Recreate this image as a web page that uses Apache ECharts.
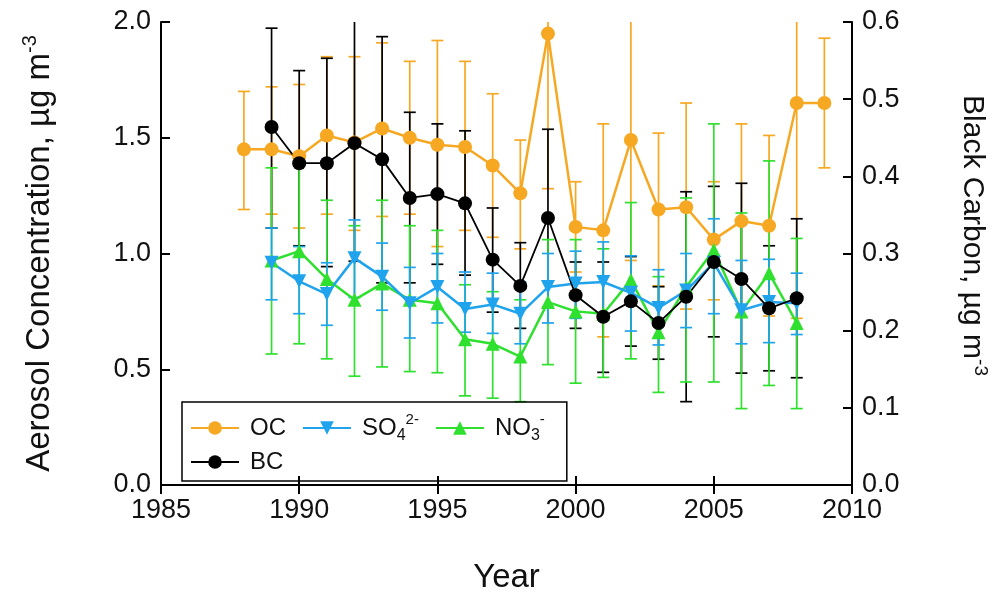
<!DOCTYPE html>
<html>
<head>
<meta charset="utf-8">
<script src="https://cdn.jsdelivr.net/npm/echarts@6.0.0/dist/echarts.min.js"></script>
<style>
  html, body { margin: 0; padding: 0; background: #fff; }
  #main { width: 999px; height: 592px; }
</style>
</head>
<body>
<div id="main"></div>
<script>
// data
var ocYears = [1988,1989,1990,1991,1992,1993,1994,1995,1996,1997,1998,1999,2000,2001,2002,2003,2004,2005,2006,2007,2008,2009];
var oc   = [1.45,1.45,1.42,1.51,1.48,1.54,1.50,1.47,1.46,1.38,1.26,1.95,1.115,1.10,1.49,1.19,1.20,1.06,1.14,1.12,1.65,1.65];
var ocHi = [1.70,1.72,1.73,1.85,1.85,1.91,1.83,1.92,1.83,1.69,1.49,2.10,1.31,1.56,2.05,1.52,1.65,1.31,1.56,1.51,2.10,1.93];
var ocLo = [1.19,1.17,1.11,1.17,1.10,1.16,1.17,1.03,1.10,1.07,1.02,1.28,0.92,0.64,0.97,0.86,0.76,0.80,0.73,0.73,0.72,1.37];

var years = [1989,1990,1991,1992,1993,1994,1995,1996,1997,1998,1999,2000,2001,2002,2003,2004,2005,2006,2007,2008];
var so4   = [0.96,0.88,0.825,0.98,0.90,0.785,0.855,0.76,0.78,0.74,0.855,0.87,0.877,0.83,0.765,0.84,0.96,0.755,0.79,0.785];
var so4Hi = [1.11,1.03,0.96,1.145,1.045,0.94,1.00,0.92,0.915,0.877,1.00,1.01,1.05,0.99,0.93,1.00,1.15,0.97,0.975,0.915];
var so4Lo = [0.80,0.74,0.69,0.81,0.755,0.635,0.70,0.66,0.655,0.61,0.70,0.72,0.72,0.665,0.605,0.68,0.74,0.61,0.615,0.65];

var no3   = [0.97,1.01,0.89,0.80,0.87,0.80,0.785,0.63,0.61,0.555,0.79,0.75,0.74,0.885,0.66,0.855,1.015,0.75,0.915,0.70];
var no3Hi = [1.37,1.42,1.23,1.12,1.23,1.12,1.10,0.865,0.835,0.80,1.06,1.06,1.02,1.22,0.90,1.24,1.56,1.175,1.40,1.065];
var no3Lo = [0.566,0.61,0.545,0.47,0.51,0.49,0.485,0.385,0.375,0.36,0.52,0.44,0.465,0.545,0.40,0.445,0.445,0.33,0.43,0.33];

// black carbon, right axis
var bc   = [0.464,0.417,0.417,0.443,0.422,0.372,0.377,0.365,0.292,0.258,0.346,0.246,0.218,0.238,0.210,0.244,0.289,0.267,0.229,0.242];
var bcHi = [0.592,0.537,0.553,0.63,0.581,0.483,0.468,0.459,0.359,0.314,0.461,0.289,0.289,0.296,0.257,0.380,0.387,0.391,0.310,0.345];
var bcLo = [0.333,0.310,0.283,0.290,0.262,0.262,0.286,0.272,0.224,0.203,0.230,0.203,0.146,0.180,0.163,0.108,0.192,0.145,0.148,0.139];

var xTicks = [1985, 2010, 5];
var leftTicks = [0, 2, 0.5];
var rightTicks = [0, 0.6, 0.1];

var colOC = '#f7a823', colSO4 = '#1fa3ec', colNO3 = '#2fe02f', colBC = '#000000';
var FONT = 'Liberation Sans, Arial, sans-serif';

function pairs(xs, ys) {
    return xs.map(function (x, i) { return [x, ys[i]]; });
}
function triples(xs, lo, hi) {
    return xs.map(function (x, i) { return [x, lo[i], hi[i]]; });
}

function errBars(name, xs, lo, hi, color, yIdx) {
    return {
        name: name,
        type: 'custom',
        yAxisIndex: yIdx || 0,
        clip: true,
        silent: true,
        data: triples(xs, lo, hi),
        renderItem: function (params, api) {
            var x = api.value(0);
            var pHi = api.coord([x, api.value(2)]);
            var pLo = api.coord([x, api.value(1)]);
            var w = 6;
            var st = { stroke: color, lineWidth: 1.7 };
            return {
                type: 'group',
                children: [
                    { type: 'line', shape: { x1: pHi[0], y1: pHi[1], x2: pLo[0], y2: pLo[1] }, style: st },
                    { type: 'line', shape: { x1: pHi[0] - w, y1: pHi[1], x2: pHi[0] + w, y2: pHi[1] }, style: st },
                    { type: 'line', shape: { x1: pLo[0] - w, y1: pLo[1], x2: pLo[0] + w, y2: pLo[1] }, style: st }
                ]
            };
        }
    };
}

var legendNames = {
    'OC': 'OC',
    'SO4': 'SO{sub|4}{sup|2-}',
    'NO3': 'NO{sub|3}{sup|-}',
    'BC': 'BC'
};

var axisLineStyle = { color: '#000', width: 2 };
var tickStyle = { show: true, inside: true, length: 9, lineStyle: { color: '#000', width: 2 } };

var myChart = echarts.init(document.getElementById('main'));

var option = {
    animation: false,
    backgroundColor: '#fff',
    grid: {
        left: 161, right: 147, top: 22, bottom: 107,
        containLabel: false,
        outerBoundsMode: 'none'
    },
    legend: {
        data: ['OC', 'SO4', 'NO3', 'BC'],
        left: 182,
        top: 402,
        width: 405,
        orient: 'horizontal',
        align: 'left',
        padding: [10, 8, 3, 8],
        itemGap: 2,
        itemWidth: 48,
        itemHeight: 17,
        borderColor: '#000',
        borderWidth: 1.5,
        formatter: function (n) { return legendNames[n]; },
        textStyle: {
            fontFamily: FONT,
            fontSize: 24,
            color: '#111',
            lineHeight: 32,
            padding: [0, 14, 0, 6],
            rich: {
                sub: { fontFamily: FONT, fontSize: 16, lineHeight: 10, verticalAlign: 'bottom', color: '#111' },
                sup: { fontFamily: FONT, fontSize: 15, lineHeight: 10, verticalAlign: 'top', color: '#111' }
            }
        }
    },
    xAxis: [{
        type: 'value',
        min: xTicks[0], max: xTicks[1], interval: xTicks[2],
        position: 'bottom',
        axisLine: { show: true, lineStyle: axisLineStyle },
        axisTick: tickStyle,
        splitLine: { show: false },
        axisLabel: {
            fontFamily: FONT, fontSize: 27, color: '#111', margin: 12,
            formatter: function (v) { return String(v); }
        },
        name: 'Year',
        nameLocation: 'middle',
        nameGap: 76,
        nameTextStyle: { fontFamily: FONT, fontSize: 33, color: '#111' }
    }, {
        type: 'value',
        min: xTicks[0], max: xTicks[1], interval: xTicks[2],
        position: 'top',
        axisLine: { show: true, lineStyle: axisLineStyle },
        axisTick: tickStyle,
        splitLine: { show: false },
        axisLabel: { show: false }
    }],
    yAxis: [{
        type: 'value',
        min: leftTicks[0], max: leftTicks[1], interval: leftTicks[2],
        position: 'left',
        axisLine: { show: true, lineStyle: axisLineStyle },
        axisTick: tickStyle,
        splitLine: { show: false },
        axisLabel: {
            fontFamily: FONT, fontSize: 27, color: '#111', margin: 10,
            formatter: function (v) { return v.toFixed(1); }
        },
        name: 'Aerosol Concentration, µg m{sup|-3}',
        nameLocation: 'middle',
        nameGap: 101,
        nameTextStyle: {
            fontFamily: FONT, fontSize: 33, color: '#111', lineHeight: 40,
            rich: { sup: { fontFamily: FONT, fontSize: 20, lineHeight: 14, verticalAlign: 'top', color: '#111' } }
        }
    }, {
        type: 'value',
        min: rightTicks[0], max: rightTicks[1], interval: rightTicks[2],
        position: 'right',
        axisLine: { show: true, lineStyle: axisLineStyle },
        axisTick: tickStyle,
        splitLine: { show: false },
        axisLabel: {
            fontFamily: FONT, fontSize: 27, color: '#111', margin: 10,
            formatter: function (v) { return v.toFixed(1); }
        },
        name: 'Black Carbon, µg m{sup|-3}',
        nameLocation: 'middle',
        nameRotate: -90,
        nameGap: 102,
        nameTextStyle: {
            fontFamily: FONT, fontSize: 30, color: '#111', lineHeight: 36,
            padding: [0, 36, 0, 0],
            rich: { sup: { fontFamily: FONT, fontSize: 19, lineHeight: 14, verticalAlign: 'top', color: '#111' } }
        }
    }],
    series: [
        errBars('OC err', ocYears, ocLo, ocHi, colOC, 0),
        errBars('BC err', years, bcLo, bcHi, colBC, 1),
        errBars('NO3 err', years, no3Lo, no3Hi, colNO3, 0),
        errBars('SO4 err', years, so4Lo, so4Hi, colSO4, 0),
        {
            name: 'OC', type: 'line', data: pairs(ocYears, oc),
            symbol: 'circle', symbolSize: 14,
            lineStyle: { color: colOC, width: 2.5 }, itemStyle: { color: colOC }
        },
        {
            name: 'NO3', type: 'line', data: pairs(years, no3),
            symbol: 'triangle', symbolSize: 14,
            lineStyle: { color: colNO3, width: 2.5 }, itemStyle: { color: colNO3 }
        },
        {
            name: 'SO4', type: 'line', data: pairs(years, so4),
            symbol: 'triangle', symbolRotate: 180, symbolSize: 14,
            lineStyle: { color: colSO4, width: 2.5 }, itemStyle: { color: colSO4 }
        },
        {
            name: 'BC', type: 'line', yAxisIndex: 1, data: pairs(years, bc),
            symbol: 'circle', symbolSize: 14,
            lineStyle: { color: colBC, width: 1.8 }, itemStyle: { color: colBC }
        }
    ]
};

myChart.setOption(option);
</script>
</body>
</html>
